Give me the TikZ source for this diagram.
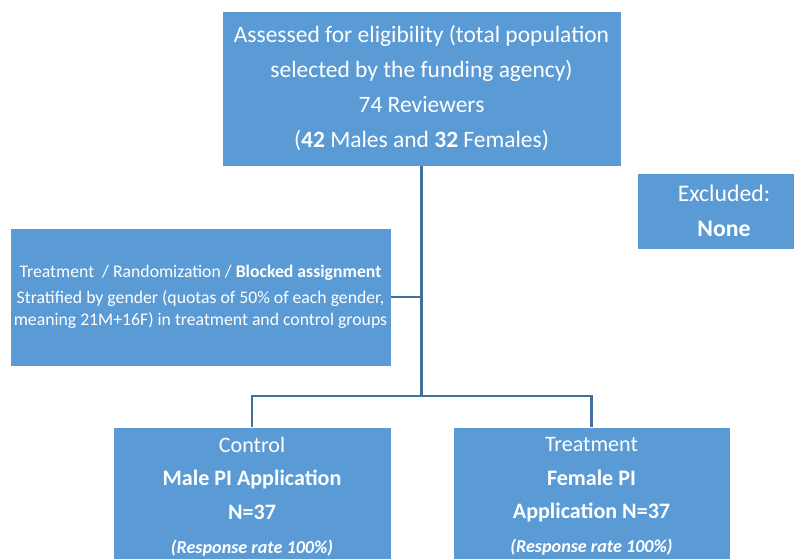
\documentclass[tikz,border=0pt]{standalone}
\usepackage{fontspec}
\setmainfont{Carlito}
\usetikzlibrary{calc}

\definecolor{boxblue}{HTML}{5B9BD5}
\definecolor{lineblue}{HTML}{41719C}

\tikzset{
  flowbox/.style={fill=boxblue, draw=white, line width=0.4pt, text=white,
    align=center, inner sep=0pt},
  flowline/.style={draw=lineblue, line width=1.6pt}
}

\begin{document}
\begin{tikzpicture}[line join=miter]
  \clip (0,0) rectangle (19.85,13.975);
  % population box and exclusion box
  \node[flowbox, minimum width=9.975cm, minimum height=3.875cm,
    font=\fontsize{16.7}{24.9}\selectfont] (pop) at (10.5375,11.7625)
    {Assessed for eligibility (total population\\
     selected by the funding agency)\\
     74 Reviewers\\
     (\textbf{42} Males and \textbf{32} Females)};
  \node[flowbox, minimum width=4.35cm, minimum height=1.9cm,
    font=\fontsize{16.9}{24.9}\selectfont] (excl) at (18.1,8.70)
    {Excluded:\\ \textbf{None}};
  % randomisation box
  \node[flowbox, minimum width=9.525cm, minimum height=3.45cm,
    font=\fontsize{12.6}{15.6}\selectfont] (rand) at (5.0125,6.55)
    {Treatment\ \ / Randomization / \textbf{Blocked assignment}\\[3.2pt]
     Stratified by gender (quotas of 50\% of each gender,\\
     meaning 21M+16F) in treatment and control groups};
  % the two arms
  \node[flowbox, minimum width=6.95cm, minimum height=3.475cm,
    font=\fontsize{15.7}{23.9}\selectfont] (ctrl) at (6.3,1.5625)
    {Control\\
     \textbf{Male PI Application}\\
     \textbf{N=37}\\
     {\fontsize{12.9}{13}\selectfont\bfseries\itshape (Response rate 100\%)}};
  \node[flowbox, minimum width=6.925cm, minimum height=3.475cm,
    font=\fontsize{15.7}{23.9}\selectfont] (treat) at (14.7875,1.5625)
    {Treatment\\
     \textbf{Female PI}\\
     \textbf{Application N=37}\\
     {\fontsize{12.9}{13}\selectfont\bfseries\itshape (Response rate 100\%)}};
  % connectors
  \coordinate (split) at (pop.south |- 0,4.075);
  \draw[flowline] (pop.south) -- (split);
  \draw[flowline] (rand.east) -- (rand.east -| pop.south);
  \draw[flowline] (split) -| (ctrl.north);
  \draw[flowline] (split) -| (treat.north);
\end{tikzpicture}
\end{document}
